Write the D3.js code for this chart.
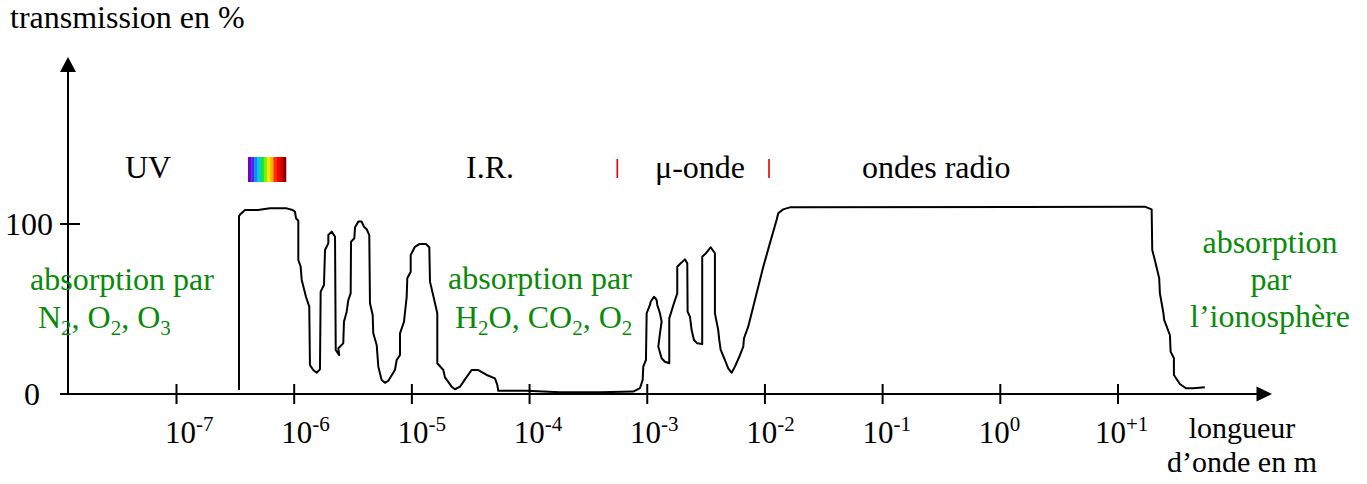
<!DOCTYPE html>
<html><head><meta charset="utf-8">
<script src="https://cdn.jsdelivr.net/npm/d3@7"></script>
<style>
html,body{margin:0;padding:0;background:#fff;}
svg{display:block;font-family:"Liberation Serif","Times New Roman",serif;}
</style></head>
<body>
<svg id="chart" width="1367" height="484"></svg>
<script>
// ---- data ----
const logWavelength = [
-6.469,-6.469,-6.455,-6.418,-6.308,-6.206,-6.064,-6.013,-5.993,-5.985,
-5.965,-5.965,-5.945,-5.936,-5.900,-5.872,-5.866,-5.838,-5.809,-5.781,
-5.775,-5.747,-5.738,-5.710,-5.710,-5.681,-5.653,-5.647,-5.617,-5.625,
-5.583,-5.577,-5.554,-5.540,-5.520,-5.517,-5.489,-5.483,-5.455,-5.427,
-5.407,-5.384,-5.362,-5.356,-5.333,-5.328,-5.299,-5.285,-5.257,-5.229,
-5.200,-5.144,-5.129,-5.101,-5.101,-5.067,-5.044,-5.039,-5.010,-5.010,
-4.974,-4.937,-4.880,-4.852,-4.846,-4.784,-4.784,-4.733,-4.719,-4.662,
-4.634,-4.591,-4.549,-4.492,-4.436,-4.364,-4.294,-4.274,-4.266,-4.025,
-3.742,-3.402,-3.119,-3.062,-3.039,-3.034,-3.011,-3.005,-2.977,-2.971,
-2.943,-2.920,-2.915,-2.892,-2.878,-2.892,-2.906,-2.878,-2.850,-2.813,
-2.813,-2.773,-2.745,-2.745,-2.722,-2.680,-2.660,-2.657,-2.637,-2.623,
-2.603,-2.575,-2.533,-2.533,-2.501,-2.461,-2.425,-2.425,-2.397,-2.388,
-2.376,-2.340,-2.312,-2.283,-2.255,-2.218,-2.184,-2.178,-2.142,-2.085,
-2.014,-1.958,-1.901,-1.887,-1.845,-1.788,1.228,1.286,1.291,1.313,
1.350,1.356,1.384,1.393,1.441,1.447,1.475,1.475,1.526,1.577,
1.639,1.738];
const transmission = [
2.4,104.7,105.9,108.2,108.2,109.2,109.2,108.2,107.2,103.4,
101.9,78.8,74.9,67.1,57.2,51.4,17.1,14.1,12.5,14.5,
60.2,64.1,84.7,88.6,93.5,95.5,92.5,25.9,22.9,26.9,
29.8,42.5,48.4,55.3,59.2,89.6,91.6,98.1,101.4,101.4,
98.4,96.9,93.5,53.4,46.5,35.7,28.8,16.1,8.2,6.6,
7.8,14.1,20.0,22.9,35.7,42.5,57.2,68.1,71.9,81.8,
86.6,88.2,88.2,86.3,66.1,47.5,18.1,14.1,9.8,4.3,
2.8,4.3,8.6,14.1,14.1,11.2,9.2,5.3,1.9,1.9,
1.0,1.0,1.4,3.4,8.2,16.1,20.0,47.5,52.4,54.3,
57.2,55.3,52.4,47.5,42.5,35.7,27.8,21.0,19.0,18.1,
44.5,53.4,59.2,74.9,76.5,79.2,76.9,48.4,45.5,37.6,
31.8,29.8,29.4,80.8,82.8,86.3,82.8,47.5,37.6,31.8,
25.9,20.0,15.1,12.5,16.1,21.9,27.8,32.8,39.6,55.3,
74.9,88.6,102.4,106.3,108.6,109.8,110.2,108.6,84.7,78.8,
68.1,59.2,48.4,43.5,34.7,24.9,21.0,11.2,5.9,3.4,
3.4,3.9];
const xTickExponents = [-7,-6,-5,-4,-3,-2,-1,0,1];
const xTickSuperscripts = ["-7","-6","-5","-4","-3","-2","-1","0","+1"];
const yTickValues = [0,100];
const yTickLabels = ["0","100"];
const domainLabels = ["UV","I.R.","\u03bc-onde","ondes radio"];
const spectrumColors = ["#7a00b8","#3a2cff","#0a8cff","#00d0d8","#10e050","#80f000","#e8f000","#ffb000","#ff3000","#ff0000","#d80000","#8a0000"];

// ---- scales ----
const svg = d3.select("#chart");
const x = d3.scaleLog().domain([1e-7, 10]).range([176.5, 1118]);
const y = d3.scaleLinear().domain([0, 100]).range([394, 224]);
const axisX0 = 68, axisY0 = y(0);
const black = "#000", green = "#0a8a0a";
const FS = 32;

// ---- axes ----
const ax = svg.append("g").attr("stroke", black).attr("stroke-width", 2).attr("fill", "none");
ax.append("line").attr("x1", 60).attr("x2", 1258).attr("y1", axisY0).attr("y2", axisY0);
ax.append("line").attr("x1", axisX0).attr("x2", axisX0).attr("y1", axisY0).attr("y2", 70);
svg.append("path").attr("d", `M1272,${axisY0}L1256.5,${axisY0-7.5}L1256.5,${axisY0+7.5}Z`).attr("fill", black);
svg.append("path").attr("d", `M${axisX0},57L${axisX0-8},72L${axisX0+8},72Z`).attr("fill", black);

// x ticks
ax.selectAll(".xt").data(xTickExponents).join("line")
  .attr("x1", d => x(Math.pow(10, d))).attr("x2", d => x(Math.pow(10, d)))
  .attr("y1", axisY0 - 10).attr("y2", axisY0 + 10);
const xl = svg.append("g").attr("font-size", 31).attr("fill", black);
xTickExponents.forEach((d, i) => {
  const t = xl.append("text").attr("x", x(Math.pow(10, d)) - 11.5 - 1.45 * i).attr("y", 442.5);
  t.append("tspan").text("10");
  t.append("tspan").attr("font-size", 21).attr("dy", -12).text(xTickSuperscripts[i]);
});

// y ticks
ax.selectAll(".yt").data(yTickValues.filter(v => v > 0)).join("line")
  .attr("x1", axisX0 - 8).attr("x2", axisX0 + 12).attr("y1", d => y(d)).attr("y2", d => y(d));
svg.append("g").attr("font-size", FS).attr("text-anchor", "end").selectAll("text")
  .data(yTickValues).join("text")
  .attr("x", (d) => d === 0 ? 40 : 53)
  .attr("y", d => y(d) + 11)
  .text((d, i) => yTickLabels[i]);

// axis titles
svg.append("text").attr("x", 10).attr("y", 28).attr("font-size", FS).text("transmission en %");
svg.append("text").attr("font-size", 30).attr("text-anchor", "middle").attr("x", 1242).attr("y", 438).text("longueur");
svg.append("text").attr("font-size", 30).attr("text-anchor", "middle").attr("x", 1242).attr("y", 472).text("d\u2019onde en m");

// ---- curve ----
const pts = logWavelength.map((e, i) => [Math.pow(10, e), transmission[i]]);
svg.append("path").datum(pts)
  .attr("d", d3.line().x(d => x(d[0])).y(d => y(d[1])))
  .attr("fill", "none").attr("stroke", black).attr("stroke-width", 2).attr("stroke-linejoin", "round");

// ---- domain labels ----
const dl = svg.append("g").attr("font-size", FS).attr("fill", black);
const dlX = [125, 466, 655, 862];
domainLabels.forEach((t, i) => dl.append("text").attr("x", dlX[i]).attr("y", 178).text(t));
// red separators
svg.append("g").attr("stroke", "#e00000").attr("stroke-width", 1.6).selectAll("line")
  .data([617.3, 769]).join("line")
  .attr("x1", d => d).attr("x2", d => d).attr("y1", 159).attr("y2", 178);
// visible spectrum strip
const sw = (286 - 248) / spectrumColors.length;
svg.append("g").selectAll("rect").data(spectrumColors).join("rect")
  .attr("x", (d, i) => 248 + i * sw).attr("y", 157).attr("width", sw + 0.3).attr("height", 25)
  .attr("fill", d => d);

// ---- absorption labels ----
const g = svg.append("g").attr("font-size", FS).attr("fill", green);
function withSubs(xp, yp, parts, anchor) {
  const t = g.append("text").attr("x", xp).attr("y", yp).attr("text-anchor", anchor || "start");
  parts.forEach(p => {
    if (p.s) { t.append("tspan").attr("font-size", 21).attr("dy", 7).text(p.s); }
    else { t.append("tspan").attr("dy", p.back ? -7 : 0).text(p.t); }
  });
}
g.append("text").attr("x", 30).attr("y", 290).text("absorption par");
withSubs(38, 328, [{t:"N"},{s:"2"},{t:", O",back:true},{s:"2"},{t:", O",back:true},{s:"3"}]);
g.append("text").attr("x", 448).attr("y", 289).text("absorption par");
withSubs(455, 328, [{t:"H"},{s:"2"},{t:"O, CO",back:true},{s:"2"},{t:", O",back:true},{s:"2"}]);
g.append("text").attr("x", 1270).attr("y", 253).attr("text-anchor", "middle").text("absorption");
g.append("text").attr("x", 1271).attr("y", 290).attr("text-anchor", "middle").text("par");
g.append("text").attr("x", 1270).attr("y", 327).attr("text-anchor", "middle").text("l\u2019ionosph\u00e8re");
</script>
</body></html>
